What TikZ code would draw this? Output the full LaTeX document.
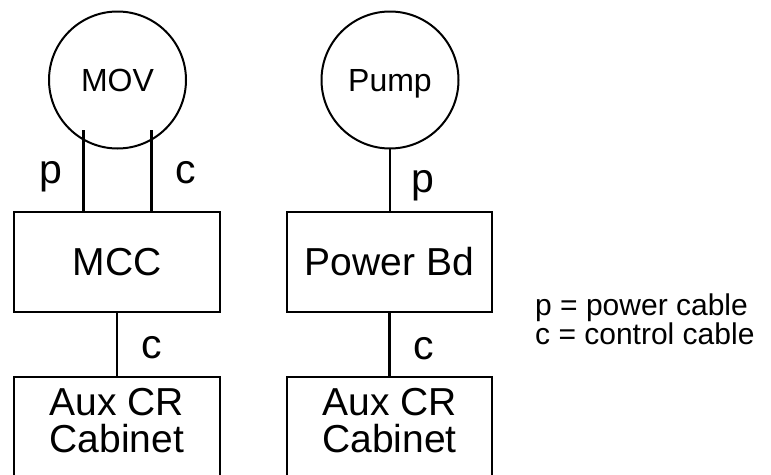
\documentclass[tikz,border=0pt]{standalone}
\usepackage{fontspec}
\setmainfont{Liberation Sans}
\usepackage{tikz}
\usetikzlibrary{positioning}

\begin{document}
\begin{tikzpicture}[
  x=1pt, y=-1pt,
  devC/.style={
    draw, circle, line width=2pt, minimum size=137pt, inner sep=0pt, outer sep=0pt,
    text depth=0pt, font=\fontsize{32}{32}\selectfont,
  },
  unitB/.style={
    draw, rectangle, line width=2.2pt, minimum width=206pt, minimum height=100pt,
    inner sep=0pt, outer sep=0pt, font=\fontsize{39}{39}\selectfont,
  },
  auxT/.style={
    anchor=north, align=center, inner sep=0pt, font=\fontsize{39}{37}\selectfont,
  },
  cableL/.style={anchor=base, inner sep=0pt, font=\fontsize{41}{41}\selectfont},
  keyL/.style={anchor=base west, inner sep=0pt, font=\fontsize{30}{30}\selectfont},
  wire/.style={line width=2.6pt},
]
\useasboundingbox (0,0) rectangle (771,474);
\clip (0,0) rectangle (771,474);

% Left side - MOV fed from MCC
\node[devC] (mov) at (117.5,80) {MOV};
\node[unitB] (mcc) at (117,262) {MCC};
\node[unitB, minimum height=124pt] (auxA) at (117,439) {};
\node[auxT] (auxAt) at (117,388) {Aux CR\\Cabinet};

\draw[wire] ([yshift=9pt]mov.240) -- (mov.240 |- mcc.north);
\draw[wire] ([yshift=9pt]mov.300) -- (mov.300 |- mcc.north);
\draw[wire] (mcc.south) -- (auxA.north);
\node[cableL] (pA) at (51,183) {p};
\node[cableL] (cA) at (186,183) {c};
\node[cableL] (cC) at (152,358) {c};

% Right side - Pump fed from Power Bd
\node[devC] (pump) at (390,80) {Pump};
\node[unitB, minimum width=205pt] (pwr) at (389.5,262) {Power Bd};
\node[unitB, minimum width=205pt, minimum height=124pt] (auxB) at (389.5,439) {};
\node[auxT] (auxBt) at (389.5,388) {Aux CR\\Cabinet};

\draw[wire] (pump.south) -- (pump.south |- pwr.north);
\draw[wire] (pwr.south) -- (auxB.north);
\node[cableL] (pB) at (423,192) {p};
\node[cableL] (cB) at (424,359) {c};

% Key
\node[keyL] (key1) at (535,315) {p = power cable};
\node[keyL] (key2) at (535,344) {c = control cable};

\end{tikzpicture}
\end{document}
